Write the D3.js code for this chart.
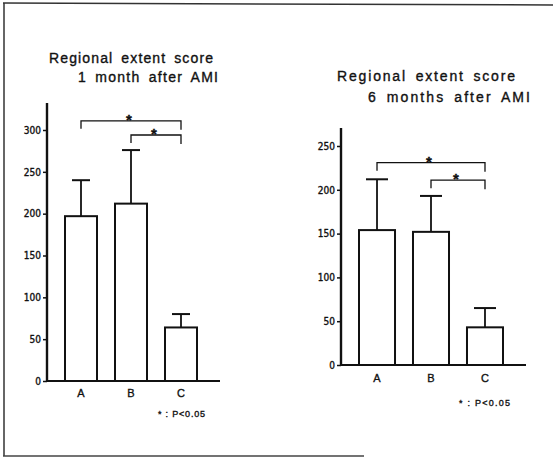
<!DOCTYPE html>
<html>
<head>
<meta charset="utf-8">
<script src="https://cdnjs.cloudflare.com/ajax/libs/d3/7.8.5/d3.min.js"></script>
<style>
body{margin:0;background:#fff;}
svg{display:block;}
text{fill:#111;font-family:"Liberation Sans",Arial,sans-serif;stroke:#111;stroke-width:0.35;}
.tick text{font-family:"Liberation Sans Narrow","DejaVu Sans Condensed",sans-serif;}
</style>
</head>
<body>
<div id="chart"></div>
<script>
// data
var groups=["A","B","C"];
var mean1m=[197,212,64], sd1m=[43,64,16];
var mean6m=[154,152,43], sd6m=[58,41,22];
var ticks1m=[0,50,100,150,200,250,300];
var ticks6m=[0,50,100,150,200,250];
var sig1m=[["A","C",311],["B","C",294]];
var sig6m=[["A","C",231],["B","C",211]];

var W=553,H=458;
var svg=d3.select("#chart").append("svg").attr("width",W).attr("height",H);

// scanned frame
svg.append("path").attr("d","M3,3 L553,5").attr("stroke","#333").attr("stroke-width",1.5).attr("fill","none");
svg.append("path").attr("d","M4,3 L4,456").attr("stroke","#333").attr("stroke-width",1.5).attr("fill","none");
svg.append("path").attr("d","M3,456 L364,456").attr("stroke","#444").attr("stroke-width",1.5).attr("fill","none");

function panel(o){
	var g=svg.append("g");
	var y=d3.scaleLinear().domain([0,o.tickVals[o.tickVals.length-1]]).range([o.y0,o.yTop]);
	var x=d3.scaleBand().domain(groups).range(o.xr).paddingInner(o.pin).paddingOuter(o.pout);
	var bw=x.bandwidth();

	// title
	o.title.forEach(function(t){
		g.append("text").attr("x",t.x).attr("y",t.y).attr("font-size",14).attr("word-spacing",3)
			.attr("textLength",t.len).attr("lengthAdjust","spacing").text(t.s);
	});

	// bars
	g.selectAll("rect.bar").data(o.mean).enter().append("rect")
		.attr("x",function(d,i){return x(groups[i]);})
		.attr("y",function(d){return y(d);})
		.attr("width",bw)
		.attr("height",function(d){return y(0)-y(d);})
		.attr("fill","#fff").attr("stroke","#111").attr("stroke-width",2);

	// error bars
	o.mean.forEach(function(m,i){
		var cx=x(groups[i])+bw/2;
		g.append("line").attr("x1",cx).attr("x2",cx).attr("y1",y(m)).attr("y2",y(m+o.sd[i]))
			.attr("stroke","#111").attr("stroke-width",1.8);
		g.append("line").attr("x1",cx-o.cap/2).attr("x2",cx+o.cap/2).attr("y1",y(m+o.sd[i])).attr("y2",y(m+o.sd[i]))
			.attr("stroke","#111").attr("stroke-width",2);
	});

	// significance brackets
	o.sig.forEach(function(s){
		var xa=x(s[0])+bw/2, xb=x(s[1])+bw/2, yy=y(s[2]);
		g.append("path").attr("d","M"+xa+","+(yy+8)+"V"+yy+"H"+xb+"V"+(yy+9))
			.attr("fill","none").attr("stroke","#111").attr("stroke-width",1.3);
		g.append("text").attr("x",(xa+xb)/2-2).attr("y",yy+4).attr("text-anchor","middle")
			.attr("font-size",15).attr("font-weight","bold").text("*");
	});

	// y axis
	var ax=g.append("g").attr("transform","translate("+o.xAxis+",0)")
		.call(d3.axisLeft(y).tickValues(o.tickVals).tickSize(4).tickPadding(2));
	ax.select(".domain").remove();
	ax.selectAll(".tick line").attr("stroke","#111").attr("stroke-width",1.5);
	ax.selectAll(".tick text").attr("font-size",10).attr("fill","#111");
	g.append("line").attr("x1",o.xAxis).attr("x2",o.xAxis).attr("y1",o.axisTop).attr("y2",y(0)+1)
		.attr("stroke","#111").attr("stroke-width",2.4);
	// x axis
	g.append("line").attr("x1",o.xAxis).attr("x2",o.xEnd).attr("y1",y(0)).attr("y2",y(0))
		.attr("stroke","#111").attr("stroke-width",2.2);
	groups.forEach(function(c){
		g.append("text").attr("x",x(c)+bw/2).attr("y",y(0)+o.catDy).attr("text-anchor","middle")
			.attr("font-size",11).text(c);
	});

	g.append("text").attr("x",o.note[0]).attr("y",o.note[1]).attr("font-size",9)
		.attr("textLength",o.note[2]).attr("lengthAdjust","spacing").text("* : P<0.05");
}

panel({
	mean:mean1m, sd:sd1m, tickVals:ticks1m, sig:sig1m,
	y0:381, yTop:130, axisTop:103, xAxis:47, xEnd:220,
	xr:[56,206], pin:0.36, pout:0.18, cap:18, catDy:16,
	title:[{x:49,y:63,len:164,s:"Regional extent score"},{x:78,y:82,len:140,s:"1 month after AMI"}],
	note:[158,417,47]
});
panel({
	mean:mean6m, sd:sd6m, tickVals:ticks6m, sig:sig6m,
	y0:365, yTop:146, axisTop:128, xAxis:341, xEnd:526,
	xr:[350,512], pin:0.333, pout:0.1667, cap:22, catDy:17,
	title:[{x:337,y:81,len:178,s:"Regional extent score"},{x:368,y:102,len:162,s:"6 months after AMI"}],
	note:[459,406,51]
});
</script>
</body>
</html>
